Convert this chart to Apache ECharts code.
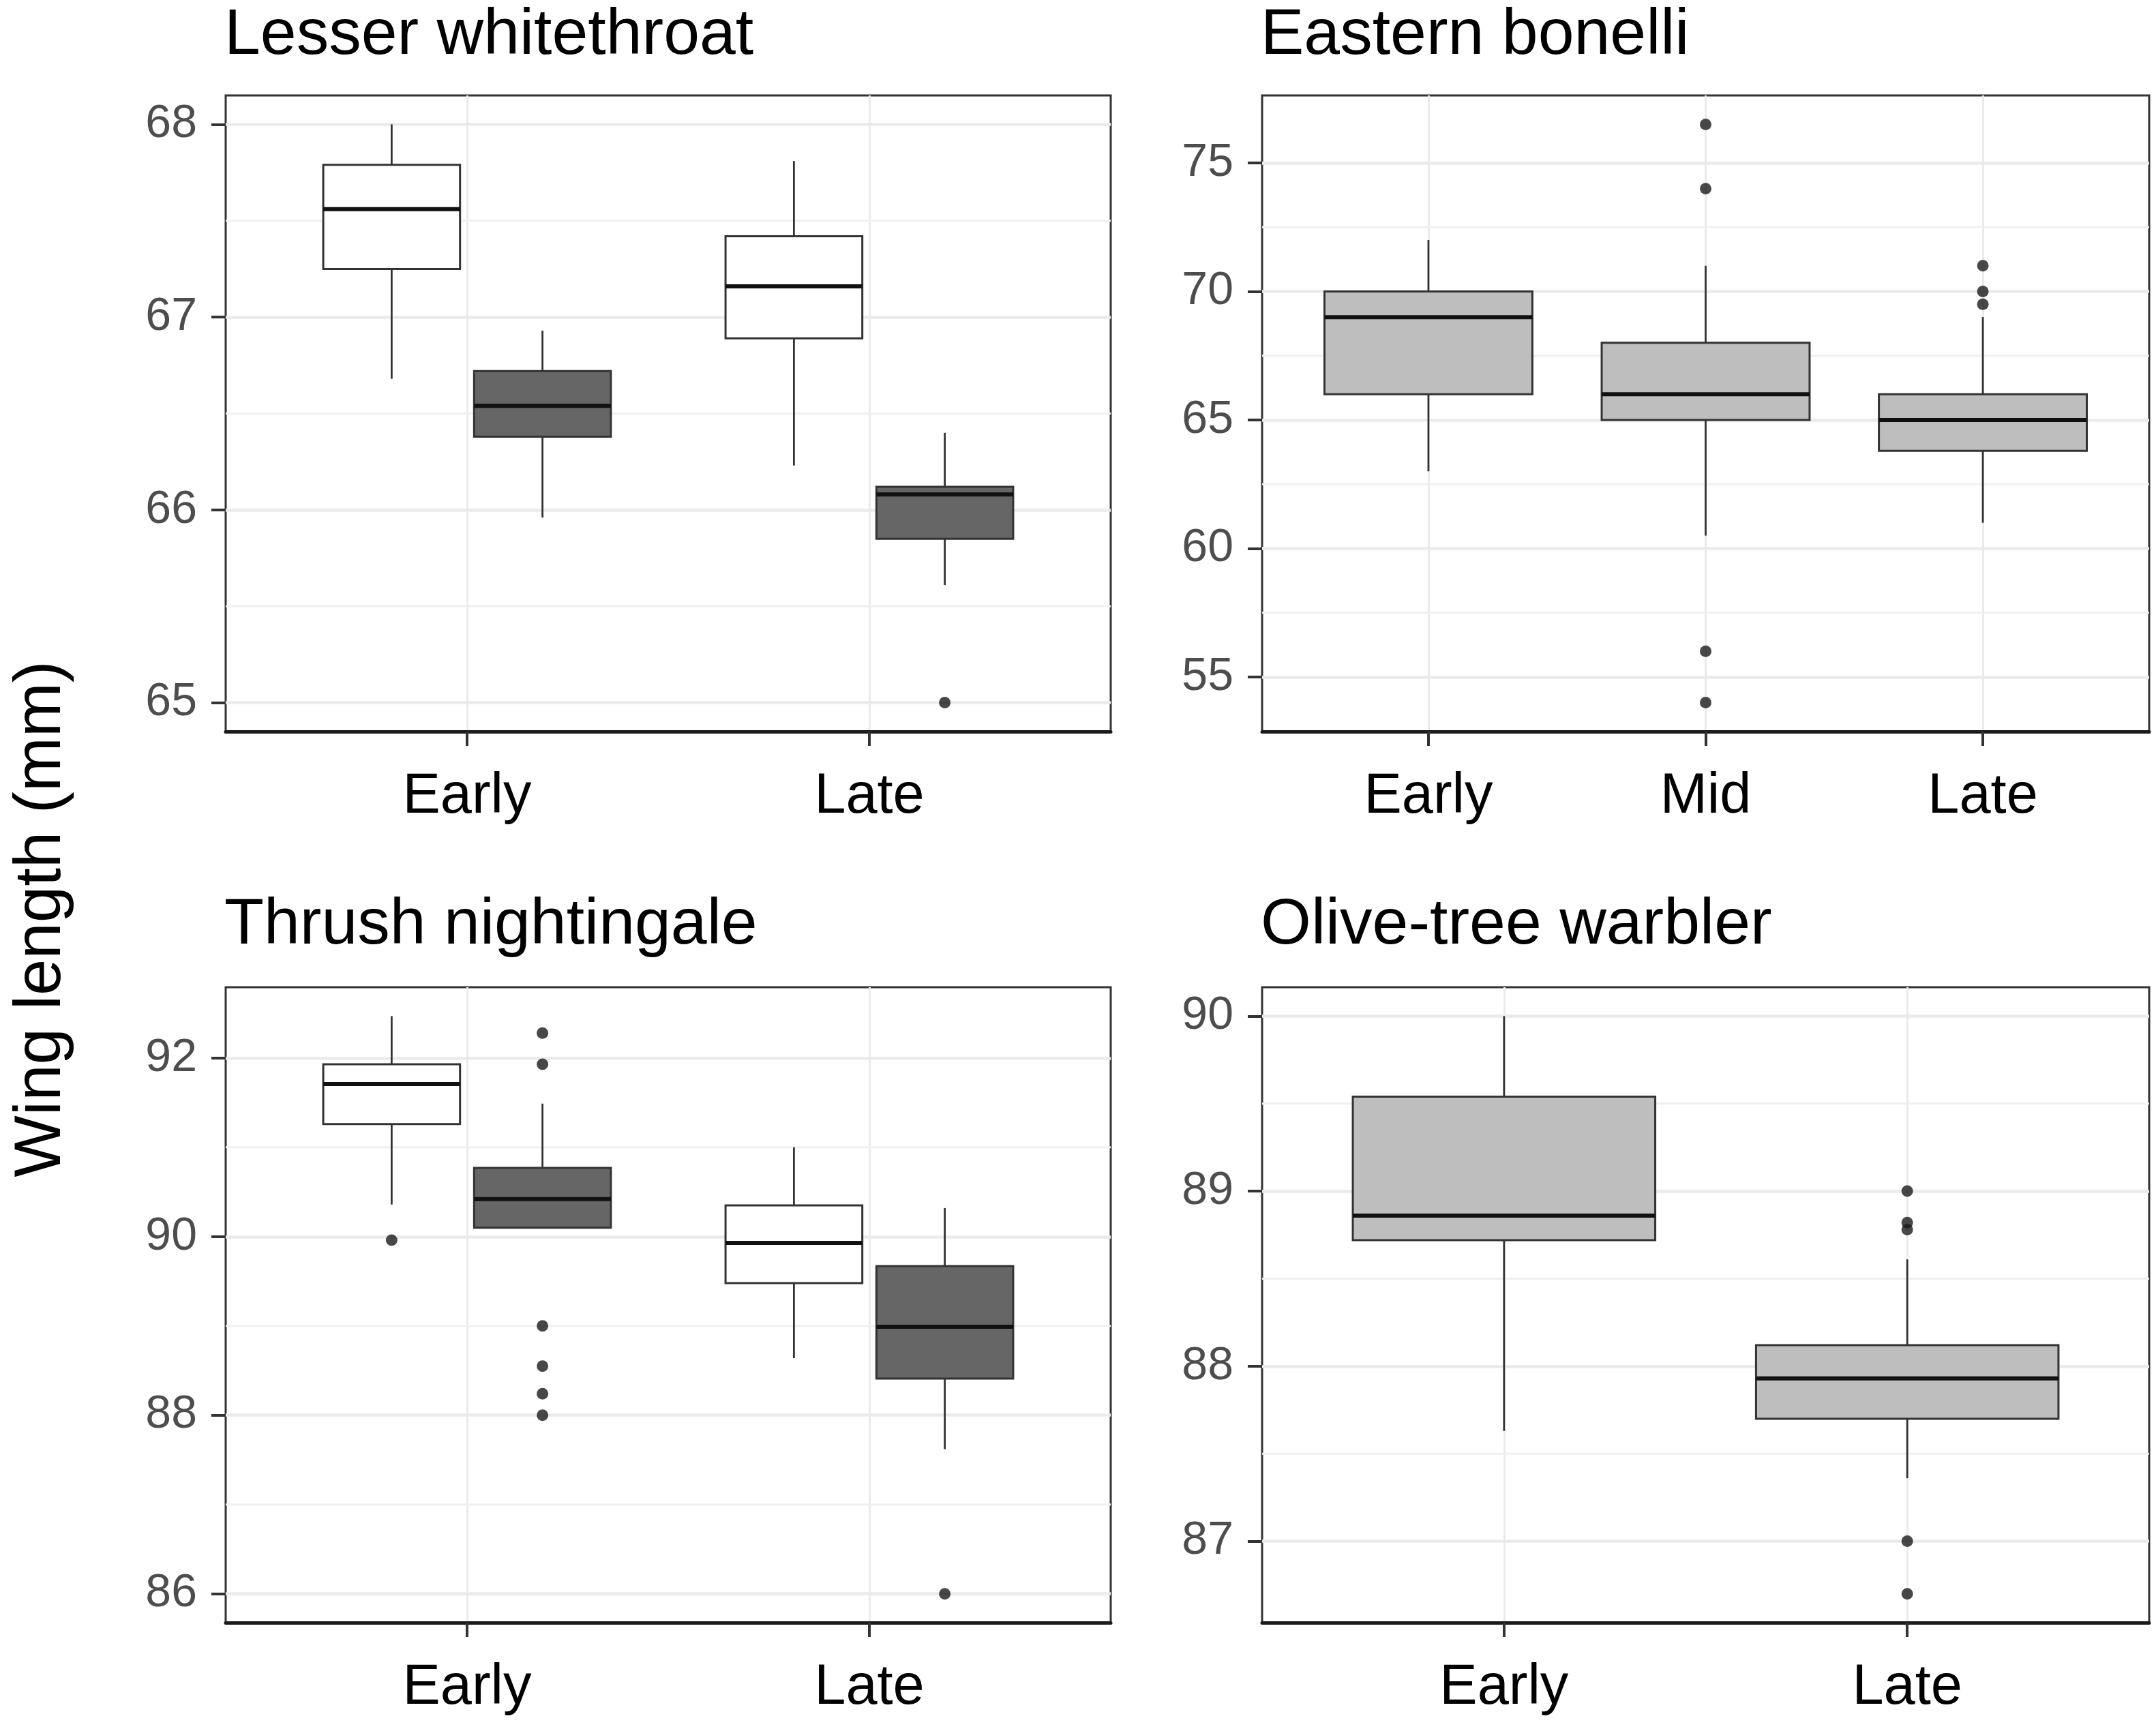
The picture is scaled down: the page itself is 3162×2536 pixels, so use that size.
<!DOCTYPE html>
<html lang="en">
<head>
  <meta charset="UTF-8">
  <script src="https://cdn.jsdelivr.net/npm/echarts@6/dist/echarts.min.js"></script>
  <title>Wing length</title>
  <style>html,body{margin:0;padding:0;background:#fff;}</style>
</head>
<body>
  <div id="main" style="width:3162px;height:2536px;"></div>
  <script type="text/javascript">
    // categories
    var twoPeriods = ['Early', 'Late'];
    var threePeriods = ['Early', 'Mid', 'Late'];

    // box stats per category: [lower whisker, Q1, median, Q3, upper whisker]
    var whitethroatLight = [[66.68, 67.25, 67.56, 67.79, 68.0], [66.23, 66.89, 67.16, 67.42, 67.81]];
    var whitethroatDark = [[65.96, 66.38, 66.54, 66.72, 66.93], [65.61, 65.85, 66.08, 66.12, 66.40]];
    var whitethroatLightOut = [];
    var whitethroatDarkOut = [[1, 65.0]]; // [category index, value]

    var bonelliBoxes = [[63, 66, 69, 70, 72], [60.5, 65, 66, 68, 71], [61, 63.8, 65, 66, 69]];
    var bonelliOut = [[1, 76.5], [1, 74], [1, 56], [1, 54], [2, 71], [2, 70], [2, 69.5]];

    var nightingaleLight = [[90.36, 91.26, 91.71, 91.93, 92.47], [88.64, 89.48, 89.93, 90.35, 91.0]];
    var nightingaleDark = [[90.10, 90.10, 90.42, 90.77, 91.49], [87.62, 88.41, 88.99, 89.67, 90.32]];
    var nightingaleLightOut = [[0, 89.96]];
    var nightingaleDarkOut = [[0, 92.28], [0, 91.93], [0, 89.0], [0, 88.55], [0, 88.24], [0, 88.0], [1, 86.0]];

    var oliveBoxes = [[87.63, 88.72, 88.86, 89.54, 90.0], [87.36, 87.70, 87.93, 88.12, 88.61]];
    var oliveOut = [[1, 89.0], [1, 88.82], [1, 88.78], [1, 87.0], [1, 86.7]];

    var panelTitles = ['Lesser whitethroat', 'Eastern bonelli', 'Thrush nightingale', 'Olive-tree warbler'];
    var yTicks = [[65, 66, 67, 68], [55, 60, 65, 70, 75], [86, 88, 90, 92], [87, 88, 89, 90]];
    var yMinor = [[65.5, 66.5, 67.5], [57.5, 62.5, 67.5, 72.5], [87, 89, 91], [87.5, 88.5, 89.5]];

    var FONT = '"Liberation Sans", Arial, sans-serif';
    var LINE = '#333333';

    var myChart = echarts.init(document.getElementById('main'));

    // panel layout (pixels)
    var grids = [
      {left: 331, top: 140, width: 1298, height: 933},
      {left: 1851, top: 140, width: 1301, height: 933},
      {left: 331, top: 1448, width: 1298, height: 932},
      {left: 1851, top: 1448, width: 1301, height: 932}
    ];
    var titleTops = [5, 5, 1310, 1310];

    var panels = [
      {cats: twoPeriods, groups: [
        {boxes: whitethroatLight, out: whitethroatLightOut, fill: '#FFFFFF', offset: -0.1875, half: 0.17},
        {boxes: whitethroatDark, out: whitethroatDarkOut, fill: '#666666', offset: 0.1875, half: 0.17}]},
      {cats: threePeriods, groups: [
        {boxes: bonelliBoxes, out: bonelliOut, fill: '#BEBEBE', offset: 0, half: 0.375}]},
      {cats: twoPeriods, groups: [
        {boxes: nightingaleLight, out: nightingaleLightOut, fill: '#FFFFFF', offset: -0.1875, half: 0.17},
        {boxes: nightingaleDark, out: nightingaleDarkOut, fill: '#666666', offset: 0.1875, half: 0.17}]},
      {cats: twoPeriods, groups: [
        {boxes: oliveBoxes, out: oliveOut, fill: '#BEBEBE', offset: 0, half: 0.375}]}
    ];

    function boxRenderer(fill, half) {
      return function (params, api) {
        var x = api.value(0);
        var lo = api.coord([x, api.value(1)]);
        var q1 = api.coord([x, api.value(2)]);
        var md = api.coord([x, api.value(3)]);
        var q3 = api.coord([x, api.value(4)]);
        var hi = api.coord([x, api.value(5)]);
        var l = api.coord([x - half, api.value(3)])[0];
        var r = api.coord([x + half, api.value(3)])[0];
        return {
          type: 'group',
          children: [
            {type: 'line', shape: {x1: lo[0], y1: lo[1], x2: q1[0], y2: q1[1]}, style: {stroke: LINE, lineWidth: 2.8}},
            {type: 'line', shape: {x1: q3[0], y1: q3[1], x2: hi[0], y2: hi[1]}, style: {stroke: LINE, lineWidth: 2.8}},
            {type: 'rect', shape: {x: l, y: q3[1], width: r - l, height: q1[1] - q3[1]}, style: {fill: fill, stroke: LINE, lineWidth: 3}},
            {type: 'line', shape: {x1: l, y1: md[1], x2: r, y2: md[1]}, style: {stroke: '#111111', lineWidth: 6}}
          ]
        };
      };
    }

    function minorRenderer(params, api) {
      var cs = params.coordSys;
      var y = api.coord([api.value(0), api.value(1)])[1];
      return {
        type: 'line',
        shape: {x1: cs.x, y1: y, x2: cs.x + cs.width, y2: y},
        style: {stroke: '#F0F0F0', lineWidth: 3}
      };
    }

    var xAxes = [], yAxes = [], series = [], titles = [];

    panels.forEach(function (p, i) {
      var n = p.cats.length;
      var all = [];
      p.groups.forEach(function (g) {
        g.boxes.forEach(function (b) { all = all.concat(b); });
        g.out.forEach(function (o) { all.push(o[1]); });
      });
      var lo = Math.min.apply(null, all), hi = Math.max.apply(null, all);
      var pad = (hi - lo) * 0.05;
      var catIdx = p.cats.map(function (c, k) { return k + 1; });

      titles.push({
        text: panelTitles[i], left: grids[i].left - 2, top: titleTops[i], padding: 0,
        textStyle: {fontFamily: FONT, fontSize: 95, fontWeight: 'normal', color: '#000'}
      });

      xAxes.push({
        type: 'value', gridIndex: i, min: 0.4, max: n + 0.6,
        axisLine: {show: true, lineStyle: {color: '#1a1a1a', width: 5}},
        axisTick: {show: true, length: 21, customValues: catIdx, lineStyle: {color: LINE, width: 4}},
        axisLabel: {
          customValues: catIdx, margin: 55, fontSize: 83, fontFamily: FONT, color: '#000',
          formatter: (function (cats) { return function (v) { return cats[Math.round(v) - 1]; }; })(p.cats)
        },
        splitLine: {show: true, lineStyle: {color: '#EBEBEB', width: 3}}
      });

      yAxes.push({
        type: 'value', gridIndex: i, min: lo - pad, max: hi + pad,
        axisLine: {show: false},
        axisTick: {show: true, length: 21, customValues: yTicks[i], lineStyle: {color: LINE, width: 4}},
        axisLabel: {customValues: yTicks[i], margin: 42, fontSize: 68, fontFamily: FONT, color: '#4D4D4D'},
        splitLine: {show: true, lineStyle: {color: '#EBEBEB', width: 4.5}}
      });

      series.push({
        type: 'custom', xAxisIndex: i, yAxisIndex: i, z: 1, silent: true,
        renderItem: minorRenderer,
        data: yMinor[i].map(function (v) { return [1, v]; })
      });

      p.groups.forEach(function (g) {
        series.push({
          type: 'custom', xAxisIndex: i, yAxisIndex: i, z: 3,
          renderItem: boxRenderer(g.fill, g.half),
          data: g.boxes.map(function (b, k) { return [k + 1 + g.offset].concat(b); })
        });
        series.push({
          type: 'scatter', xAxisIndex: i, yAxisIndex: i, z: 4,
          symbolSize: 17, itemStyle: {color: '#1a1a1a'},
          data: g.out.map(function (o) { return [o[0] + 1 + g.offset, o[1]]; })
        });
      });
    });

    var option = {
      backgroundColor: '#fff',
      animation: false,
      title: titles,
      grid: grids.map(function (g) {
        return {left: g.left, top: g.top, width: g.width, height: g.height,
          show: true, borderColor: LINE, borderWidth: 3, backgroundColor: 'transparent'};
      }),
      xAxis: xAxes,
      yAxis: yAxes,
      series: series,
      graphic: [{
        type: 'text', x: 62, y: 1348, rotation: Math.PI / 2,
        style: {text: 'Wing length (mm)', font: '96px "Liberation Sans", Arial, sans-serif',
          fill: '#000', align: 'center', verticalAlign: 'middle'}
      }]
    };
    myChart.setOption(option);
  </script>
</body>
</html>
